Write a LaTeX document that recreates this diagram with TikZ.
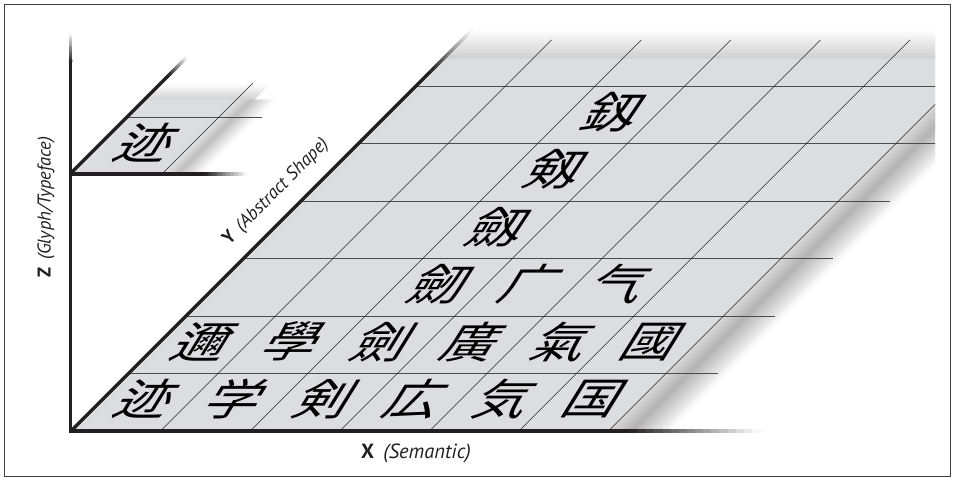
\documentclass[tikz,border=0pt]{standalone}
\usepackage{fontspec}
\newfontfamily\cjk{Noto Sans CJK JP}
\newfontfamily\lblfont{PT Sans}
\usetikzlibrary{calc}
\definecolor{planegray}{RGB}{220,221,223}
\definecolor{axiscol}{RGB}{35,31,32}
\newcommand{\fadeaxis}[2]{%
  \foreach \i in {0,...,15}{%
    \pgfmathsetmacro\ta{\i/16}%
    \pgfmathsetmacro\tb{(\i+1.3)/16}%
    \pgfmathsetmacro\pc{100*(1-(\i+0.5)/16)}%
    \draw[axisline, draw=axiscol!\pc!white, line cap=butt] ($(#1)!\ta!(#2)$) -- ($(#1)!\tb!(#2)$);
  }}
\begin{document}
\begin{tikzpicture}[x=1pt,y=1pt,
  axisline/.style={line width=3.5pt, draw=axiscol, line cap=butt},
  rowline/.style={line width=0.9pt, draw=black!70},
  colline/.style={line width=0.55pt, draw=black!85},
  glyph/.style={font=\cjk\fontsize{54}{54}\selectfont, inner sep=0pt, xslant=0.62, yscale=0.8},
  lbl/.style={font=\lblfont\fontsize{18.5}{18.5}\selectfont, text=axiscol, inner sep=0pt}
]
\useasboundingbox (0,0) rectangle (955,481);
\fill[white] (0,0) rectangle (955,481);
\draw[line width=1.2pt, black!75] (4.5,4.5) rectangle (950.5,476.5);

% ---------------- main plane ----------------
\begin{scope}
\clip (0,0) rectangle (935,481);
\begin{scope}[shift={(71,50)}, xslant=1]
  % top band fading upward
  \foreach \i in {0,...,19}{
    \pgfmathsetmacro\va{372+\i*29/20}
    \pgfmathsetmacro\vb{372+(\i+1)*29/20+0.6}
    \pgfmathsetmacro\pc{19*(1-(\i+0.5)/20)}
    \fill[black!\pc] (0,\va) rectangle (640,\vb);
  }
  % plane
  \fill[planegray] (0,0) rectangle (560,372.3);
  % darkening toward the curled edge
  \foreach \i in {0,...,9}{
    \pgfmathsetmacro\ua{535+\i*2.5}
    \pgfmathsetmacro\ub{535+(\i+1)*2.5+0.5}
    \pgfmathsetmacro\pc{13.5+16*(\i+0.5)/10}
    \fill[black!\pc] (\ua,0) rectangle (\ub,372.3);
  }
  % shadow beyond the edge
  \foreach \i in {0,...,19}{
    \pgfmathsetmacro\ua{560+\i*2}
    \pgfmathsetmacro\ub{560+(\i+1)*2+0.5}
    \pgfmathsetmacro\pc{30*(1-(\i+0.5)/20)}
    \fill[black!\pc] (\ua,0) rectangle (\ub,372.3);
  }
  % grid
  \foreach \j in {1,...,6}{
    \draw[rowline] (0,57.5*\j) -- (589,57.5*\j);
  }
  \foreach \k in {1,...,6}{
    \draw[colline] (89.6*\k,0) -- (89.6*\k,391);
  }
  % glyphs
  \node[glyph] (g00) at (44.8,31.75) {迹};
  \node[glyph] (g10) at (134.4,31.75) {学};
  \node[glyph] (g20) at (224,31.75) {剣};
  \node[glyph] (g30) at (313.6,31.75) {広};
  \node[glyph] (g40) at (403.2,31.75) {気};
  \node[glyph] (g50) at (492.8,31.75) {国};
  \node[glyph] (g01) at (44.8,89.25) {邇};
  \node[glyph] (g11) at (134.4,89.25) {學};
  \node[glyph] (g21) at (224,89.25) {劍};
  \node[glyph] (g31) at (313.6,89.25) {廣};
  \node[glyph] (g41) at (403.2,89.25) {氣};
  \node[glyph] (g51) at (492.8,89.25) {國};
  \node[glyph] (g22) at (224,146.75) {劒};
  \node[glyph] (g32) at (313.6,146.75) {广};
  \node[glyph] (g42) at (403.2,146.75) {气};
  \node[glyph] (g23) at (224,204.25) {劔};
  \node[glyph] (g24) at (224,261.75) {剱};
  \node[glyph] (g25) at (224,319.25) {釼};
\end{scope}
\end{scope}

% ---------------- inset plane ----------------
\begin{scope}[shift={(70,307)}, xslant=1]
  \foreach \i in {0,...,11}{
    \pgfmathsetmacro\va{74+\i*16/12}
    \pgfmathsetmacro\vb{74+(\i+1)*16/12+0.6}
    \pgfmathsetmacro\pc{18*(1-(\i+0.5)/12)}
    \fill[black!\pc] (0,\va) rectangle (110,\vb);
  }
  \fill[planegray] (0,0) rectangle (108,74.3);
  \foreach \i in {0,...,5}{
    \pgfmathsetmacro\ua{96+\i*2}
    \pgfmathsetmacro\ub{96+(\i+1)*2+0.5}
    \pgfmathsetmacro\pc{13.5+12*(\i+0.5)/6}
    \fill[black!\pc] (\ua,0) rectangle (\ub,74.3);
  }
  \foreach \i in {0,...,11}{
    \pgfmathsetmacro\ua{108+\i*2}
    \pgfmathsetmacro\ub{108+(\i+1)*2+0.5}
    \pgfmathsetmacro\pc{25*(1-(\i+0.5)/12)}
    \fill[black!\pc] (\ua,0) rectangle (\ub,74.3);
  }
  \draw[rowline] (0,57) -- (135,57);
  \draw[colline] (92,0) -- (92,91);
  \node[glyph] (gi) at (46,31.5) {迹};
\end{scope}

% ---------------- axes ----------------
\coordinate (zb) at (70.7,48.25);
\coordinate (zm) at (70.7,419);
\coordinate (zt) at (70.7,448);
\coordinate (xb) at (68.95,50);
\coordinate (xm) at (630,50);
\coordinate (xt) at (760,50);
\coordinate (yb) at (71,50);
\coordinate (ym) at (431,410);
\coordinate (yt) at (472,451);
\draw[axisline] (zb) -- (zm);
\fadeaxis{zm}{zt}
\draw[axisline] (xb) -- (xm);
\fadeaxis{xm}{xt}
\draw[axisline] (yb) -- (ym);
\fadeaxis{ym}{yt}
% inset axes
\coordinate (ib) at (70,307);
\coordinate (ihm) at (205,307);
\coordinate (iht) at (247,307);
\coordinate (idm) at (169,406);
\coordinate (idt) at (187,424);
\draw[axisline] (ib) -- (ihm);
\fadeaxis{ihm}{iht}
\draw[axisline] (ib) -- (idm);
\fadeaxis{idm}{idt}

% ---------------- labels ----------------
\node[lbl, rotate=90] (zlab) at (46,274) {\textbf{Z}\hspace{0.4em}\textit{(Glyph/Typeface)}};
\node[lbl, rotate=45] (ylab) at (276,289) {\textbf{Y}\hspace{0.4em}\textit{(Abstract Shape)}};
\node[lbl, font=\lblfont\fontsize{20.5}{20.5}\selectfont] (xlab) at (416,28) {\textbf{X}\hspace{0.45em}\textit{(Semantic)}};
\end{tikzpicture}
\end{document}
